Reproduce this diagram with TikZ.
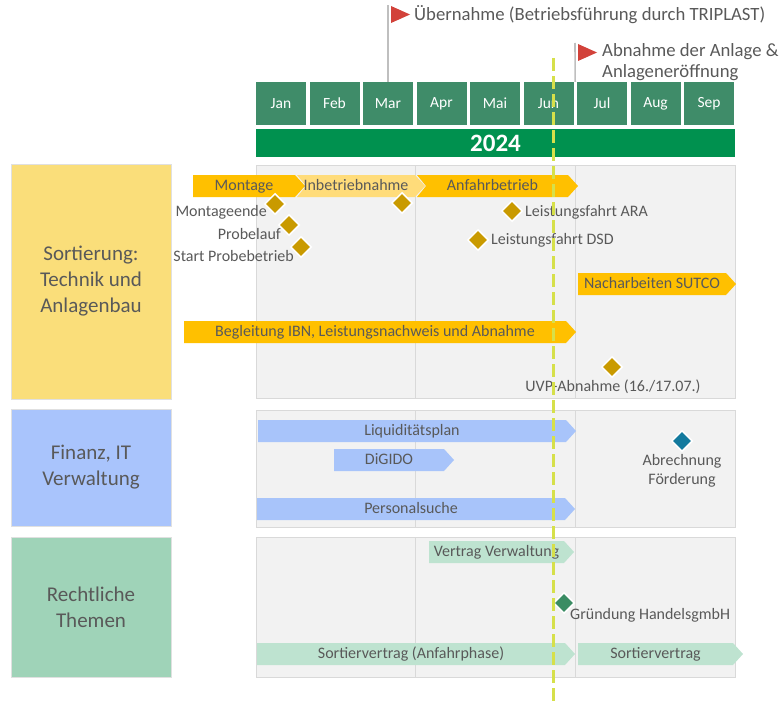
\documentclass[tikz,border=0pt]{standalone}
\usepackage{fontspec}
\setmainfont{Carlito}
\usetikzlibrary{positioning,shapes.geometric}
\definecolor{txtgrey}{HTML}{595959}
\definecolor{monthgreen}{HTML}{3F8C69}
\definecolor{yeargreen}{HTML}{00914F}
\definecolor{barorange}{HTML}{FFC000}
\definecolor{barlight}{HTML}{FFDC7A}
\definecolor{barblue}{HTML}{A8C4FA}
\definecolor{barmint}{HTML}{BEE3D0}
\definecolor{boxyellow}{HTML}{FADE7A}
\definecolor{boxblue}{HTML}{A9C4FC}
\definecolor{boxgreen}{HTML}{9FD3B8}
\definecolor{msgold}{HTML}{C99A00}
\definecolor{msblue}{HTML}{137A9E}
\definecolor{msgreen}{HTML}{3A8C63}
\definecolor{flagred}{HTML}{D2423A}
\definecolor{todayyellow}{HTML}{D6E04A}
% chevron bar: name, x from, x to, y centre, notch, colour, text
\newcommand{\ganttbar}[7]{%
    \fill[#6] (#2,#4-11) -- (#3-10,#4-11) -- (#3,#4) -- (#3-10,#4+11)
        -- (#2,#4+11) -- (#2+#5,#4) -- cycle;
    \node[bartext] (#1) at ({(#2+#3-10)/2},#4) {#7};
}

\begin{document}
\begin{tikzpicture}[
    x=1pt, y=-1pt,
    every node/.style={text=txtgrey},
    monthbox/.style={
        rectangle,
        fill=monthgreen,
        text=white,
        minimum width=50pt,
        minimum height=43pt,
        inner sep=0pt,
        font=\fontsize{15.5}{18}\selectfont
    },
    yearbar/.style={
        rectangle,
        fill=yeargreen,
        text=white,
        minimum width=479pt,
        minimum height=28pt,
        inner sep=0pt,
        font=\fontsize{25}{28}\selectfont\bfseries
    },
    groupbox/.style={
        rectangle,
        draw=black!12,
        align=center,
        minimum width=160pt,
        inner sep=0pt,
        font=\fontsize{21}{26}\selectfont
    },
    panel/.style={fill=black!5, draw=black!15, line width=0.8pt},
    gridline/.style={draw=black!15, line width=0.8pt},
    oneline/.style={text height=12pt, text depth=3pt},
    bartext/.style={inner sep=0pt, oneline, font=\fontsize{16}{19}\selectfont},
    mslabel/.style={inner sep=0pt, align=center, font=\fontsize{16}{19}\selectfont},
    milestone/.style={
        diamond,
        aspect=1,
        fill=msgold,
        draw=white,
        line width=1.5pt,
        minimum size=21pt,
        inner sep=0pt
    },
    flagtext/.style={inner sep=0pt, align=left, font=\fontsize{18.7}{21}\selectfont},
    pole/.style={draw=black!25, line width=1.6pt},
    todayline/.style={draw=todayyellow, line width=3pt, dash pattern=on 13pt off 5pt}
]
    \useasboundingbox (0,0) rectangle (780,701);

    % months and year
    \foreach \m [count=\i] in {Jan,Feb,Mar,Apr,Mai,Jun,Jul,Aug,Sep}
        \node[monthbox] (m\i) at ({281+53.5*(\i-1)},103.5) {\m};
    \node[yearbar] (year) at (495.5,143) {2024};

    % flags
    \coordinate (poleA) at (388,5);
    \coordinate (poleB) at (575,43);
    \draw[pole] (m3.north) -- (poleA);
    \draw[pole] (m6.north east) ++(1.5,0) -- (poleB);
    \fill[flagred] (391,6) -- (410,14.5) -- (391,23) -- cycle;
    \fill[flagred] (578,44) -- (597,52.5) -- (578,61) -- cycle;
    \node[flagtext, anchor=west] (uebernahme) at (414,15)
        {Übernahme (Betriebsführung durch TRIPLAST)};
    \node[flagtext, anchor=west] (abnahme) at (602,62.5)
        {Abnahme der Anlage \&\\Anlageneröffnung};

    % group boxes
    \node[groupbox, fill=boxyellow, minimum height=235pt] (sort) at (91,281.5)
        {Sortierung:\\Technik und\\Anlagenbau};
    \node[groupbox, fill=boxblue, minimum height=117pt] (fin) at (91,467.5)
        {Finanz, IT\\Verwaltung};
    \node[groupbox, fill=boxgreen, minimum height=140pt] (recht) at (91,607)
        {Rechtliche\\Themen};

    % panels
    \draw[panel] (256,165) rectangle (735,398);
    \draw[panel] (256,410) rectangle (735,527);
    \draw[panel] (256,537) rectangle (735,677);
    \foreach \x in {415.5,575} {
        \draw[gridline] (\x,165) -- (\x,398);
        \draw[gridline] (\x,410) -- (\x,527);
        \draw[gridline] (\x,537) -- (\x,677);
    }

    % Sortierung
    \ganttbar{montage}{193}{305}{186}{0}{barorange}{Montage}
    \ganttbar{ibn}{297}{425}{186}{9}{barlight}{Inbetriebnahme}
    \ganttbar{anfahr}{417}{578}{186}{9}{barorange}{Anfahrbetrieb}
    \ganttbar{sutco}{578}{736}{284}{0}{barorange}{Nacharbeiten SUTCO}
    \ganttbar{begleit}{184}{576}{332}{0}{barorange}{Begleitung IBN, Leistungsnachweis und Abnahme}

    \node[milestone] (mende) at (275,204) {};
    \node[milestone] (mprobe) at (289,225) {};
    \node[milestone] (mstart) at (301,247) {};
    \node[milestone] (mibn) at (402,203) {};
    \node[milestone] (mara) at (512,211) {};
    \node[milestone] (mdsd) at (478,240) {};
    \node[milestone] (muvp) at (612,367) {};
    \node[mslabel, oneline, anchor=east] (lende) at (267,212) {Montageende};
    \node[mslabel, oneline, anchor=east] (lprobe) at (281,235) {Probelauf};
    \node[mslabel, oneline, anchor=east] (lstart) at (294,257) {Start Probebetrieb};
    \node[mslabel, oneline, anchor=west] (lara) at (525,212) {Leistungsfahrt ARA};
    \node[mslabel, oneline, anchor=west] (ldsd) at (491,240) {Leistungsfahrt DSD};
    \node[mslabel, oneline] (luvp) at (613,387) {UVP-Abnahme (16./17.07.)};

    % Finanz
    \ganttbar{liqui}{258}{576}{431}{0}{barblue}{Liquiditätsplan}
    \ganttbar{digido}{334}{454}{460}{0}{barblue}{DiGIDO}
    \ganttbar{personal}{257}{575}{509}{0}{barblue}{Personalsuche}
    \node[milestone, fill=msblue] (mabr) at (682,441) {};
    \node[mslabel] (labr) at (682,471) {Abrechnung\\Förderung};

    % Rechtliche Themen
    \ganttbar{vertrag}{429}{574}{552}{0}{barmint}{Vertrag Verwaltung}
    \ganttbar{sortanf}{257}{575}{654}{0}{barmint}{Sortiervertrag (Anfahrphase)}
    \ganttbar{sortv}{578}{743}{654}{0}{barmint}{Sortiervertrag}
    \node[milestone, fill=msgreen] (mgruend) at (564,603) {};
    \node[mslabel, oneline, anchor=west] (lgruend) at (570,615) {Gründung HandelsgmbH};

    % today
    \coordinate (todaytop) at (553,58);
    \coordinate (todaybot) at (553,701);
    \draw[todayline] (todaytop) -- (todaybot);
\end{tikzpicture}
\end{document}
